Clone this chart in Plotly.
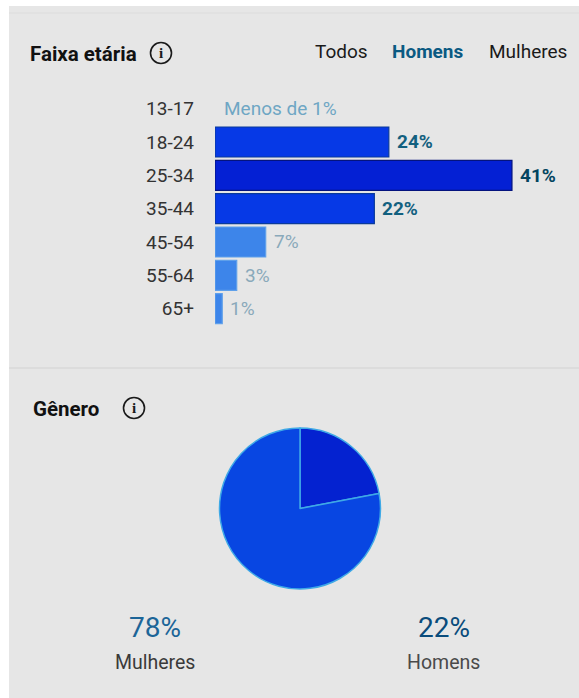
import plotly.graph_objects as go

W, H = 579, 698

# Age distribution
age_groups = ["13-17", "18-24", "25-34", "35-44", "45-54", "55-64", "65+"]
age_values = [0, 24, 41, 22, 7, 3, 1]
age_labels = ["Menos de 1%", "24%", "41%", "22%", "7%", "3%", "1%"]
bar_colors = ["#3d85ea", "#0639e6", "#0420d4", "#0639e6", "#3d85ea", "#3d85ea", "#3d85ea"]
bar_edges = ["#3d85ea", "#0a3a9a", "#04137e", "#0a3a9a", "#5fa0ea", "#5fa0ea", "#5fa0ea"]
bar_edge_widths = [0, 1.2, 1.2, 1.2, 1.2, 1.2, 1.2]
label_colors = ["#6fa6c4", "#12607f", "#03445f", "#12607f", "#8aa9ba", "#8aa9ba", "#8aa9ba"]

# Gender split
genders = ["Homens", "Mulheres"]
gender_values = [22, 78]
gender_colors = ["#0422d0", "#0846e2"]

# Filter tabs
tabs = ["Todos", "Homens", "Mulheres"]
tab_colors = ["#1a1a1a", "#0b5a82", "#1a1a1a"]
tab_right_edges = [369.5, 465.5, 568.5]

FONT = "Roboto"


def px(x):
    return x / W


def py(y):
    return 1 - y / H


def text(x, y, s, size, color, anchor="left", weight="normal"):
    return dict(
        x=px(x), y=py(y), xref="paper", yref="paper", text=s, showarrow=False,
        xanchor=anchor, yanchor="middle", align=anchor,
        font=dict(family=FONT, size=size, color=color, weight=weight),
    )


def info_icon(cx, cy):
    r = 10.5
    shape = dict(
        type="circle", xref="paper", yref="paper",
        x0=px(cx - r), x1=px(cx + r), y0=py(cy + r), y1=py(cy - r),
        line=dict(color="#1a1a1a", width=1.6), fillcolor="rgba(0,0,0,0)",
    )
    glyph = dict(
        x=px(cx), y=py(cy), xref="paper", yref="paper", text="<b>i</b>", showarrow=False,
        xanchor="center", yanchor="middle",
        font=dict(family="Liberation Serif", size=15, color="#1a1a1a"),
    )
    return shape, glyph


fig = go.Figure()

fig.add_trace(go.Bar(
    y=age_groups, x=age_values, orientation="h", width=0.9,
    marker=dict(color=bar_colors, line=dict(color=bar_edges, width=bar_edge_widths)),
    hoverinfo="skip", showlegend=False,
))

fig.add_trace(go.Pie(
    labels=genders, values=gender_values, sort=False, direction="clockwise", rotation=0,
    marker=dict(colors=gender_colors, line=dict(color="#3fa9e6", width=1.5)),
    textinfo="none", hoverinfo="skip", showlegend=False,
    domain=dict(x=[px(219.5), px(380.5)], y=[py(589), py(428)]),
))

annotations = []
for group, value, label, color in zip(age_groups, age_values, age_labels, label_colors):
    annotations.append(dict(
        x=value, y=group, xref="x", yref="y", text=label, showarrow=False,
        xanchor="left", yanchor="middle", xshift=7 if value == 0 else 6,
        font=dict(family=FONT, size=19, color=color,
                  weight="bold" if value >= 22 else "normal"),
    ))

for tab, color, right in zip(tabs, tab_colors, tab_right_edges):
    annotations.append(text(right, 52, tab, 19, color, "right",
                            "bold" if tab == "Homens" else "normal"))

annotations += [
    text(28, 54, "Faixa etária", 20.5, "#111111", weight="bold"),
    text(31, 409, "Gênero", 20.5, "#111111", weight="bold"),
    text(155, 627, f"{gender_values[1]}%", 28, "#1c6598", "center"),
    text(155, 662, genders[1], 19.5, "#3a3a3a", "center"),
    text(444, 627, f"{gender_values[0]}%", 28, "#0a4c7c", "center"),
    text(444, 662, genders[0], 19.5, "#4a4a4a", "center"),
]

icon_a, glyph_a = info_icon(161, 53)
icon_b, glyph_b = info_icon(134, 408)
annotations += [glyph_a, glyph_b]

shapes = [
    dict(type="rect", xref="paper", yref="paper", layer="below",
         x0=px(9), x1=1, y0=py(698), y1=py(6), fillcolor="#e6e6e6", line=dict(width=0)),
    dict(type="line", xref="paper", yref="paper", layer="below",
         x0=px(9), x1=1, y0=py(13), y1=py(13), line=dict(color="#dcdcdc", width=1)),
    dict(type="line", xref="paper", yref="paper", layer="below",
         x0=px(9), x1=1, y0=py(368), y1=py(368), line=dict(color="#d9d9d9", width=1.5)),
    icon_a,
    icon_b,
]

row_px = 33.33
fig.update_layout(
    width=W, height=H,
    margin=dict(l=0, r=0, t=0, b=0, autoexpand=False),
    paper_bgcolor="#ffffff",
    plot_bgcolor="rgba(0,0,0,0)",
    font=dict(family=FONT),
    bargap=0.1,
    shapes=shapes,
    annotations=annotations,
    xaxis=dict(domain=[px(215), 1], range=[0, (W - 215) / 7.243], visible=False, fixedrange=True),
    yaxis=dict(
        domain=[py(92 + 7 * row_px), py(92)],
        categoryorder="array", categoryarray=age_groups, autorange="reversed",
        showgrid=False, zeroline=False, showline=False, ticks="",
        ticklabelstandoff=20, anchor="x", fixedrange=True,
        tickfont=dict(family=FONT, size=19, color="#333333"),
    ),
)

fig.write_html("out.html", config=dict(displayModeBar=False))
